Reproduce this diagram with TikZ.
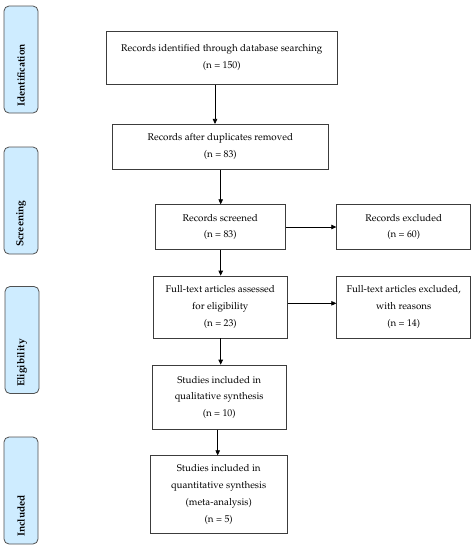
\documentclass[tikz,border=0pt]{standalone}
\usepackage[T1]{fontenc}
\renewcommand{\rmdefault}{ppl}
\usetikzlibrary{arrows.meta}
\definecolor{sidefill}{RGB}{206,236,255}
\definecolor{sideline}{RGB}{80,80,80}
\definecolor{boxline}{RGB}{60,60,60}
\begin{document}
\begin{tikzpicture}[x=1pt,y=-1pt,
  box/.style={draw=boxline, line width=0.7pt, align=center, inner sep=0pt,
     font=\fontsize{9.8}{16.7}\selectfont},
  side/.style={draw=sideline, fill=sidefill, line width=0.8pt, rounded corners=5pt,
     minimum width=34pt, minimum height=107pt, inner sep=0pt},
  sidetext/.style={rotate=90, anchor=west, inner sep=0pt, font=\fontsize{10.2}{12}\selectfont\bfseries},
  arr/.style={draw=black, line width=0.7pt, -{Triangle[length=5pt,width=4.5pt]}}]
\useasboundingbox (0,0) rectangle (474,550);

% side labels
\node[side] (s1) at (21,59.5) {};
\node[sidetext] (t1) at (21,107) {Identification};
\node[side] (s2) at (21,200.5) {};
\node[sidetext] (t2) at (21,247) {Screening};
\node[side] (s3) at (22,340) {};
\node[sidetext] (t3) at (22,387) {Eligibility};
\node[side] (s4) at (21,490.5) {};
\node[sidetext] (t4) at (21,537) {Included};

% boxes
\node[box, minimum width=230.5pt, minimum height=53.3pt] (b1) at (221.75,57.6)
  {Records identified through database searching\\(n = 150)};
\node[box, minimum width=216pt, minimum height=45pt] (b2) at (220.3,146.8)
  {Records after duplicates removed\\(n = 83)};
\node[box, minimum width=130.3pt, minimum height=44.6pt] (b3) at (220.2,227)
  {Records screened\\(n = 83)};
\node[box, minimum width=134pt, minimum height=44.6pt] (e1) at (403.7,227)
  {Records excluded\\(n = 60)};
\node[box, minimum width=134pt, minimum height=62pt] (b4) at (220.3,307)
  {Full-text articles assessed\\for eligibility\\(n = 23)};
\node[box, minimum width=134pt, minimum height=62pt] (e2) at (403.7,307)
  {Full-text articles excluded,\\with reasons\\(n = 14)};
\node[box, minimum width=133.7pt, minimum height=64.3pt] (b5) at (219.2,397.2)
  {Studies included in\\qualitative synthesis\\(n = 10)};
\node[box, minimum width=137.3pt, minimum height=77.6pt] (b6) at (218.7,494.5)
  {Studies included in\\quantitative synthesis\\(meta-analysis)\\(n = 5)};

% connector guides
\coordinate (c1) at (215,0);
\coordinate (c2) at (220.7,0);
\coordinate (c5) at (217.7,0);
\coordinate (r4) at (0,303.3);

\draw[arr] (c1 |- b1.south) -- (c1 |- b2.north);
\draw[arr] (c2 |- b2.south) -- (c2 |- b3.north);
\draw[arr] (c2 |- b3.south) -- (c2 |- b4.north);
\draw[arr] (c2 |- b4.south) -- (c2 |- b5.north);
\draw[arr] (c5 |- b5.south) -- (c5 |- b6.north);
\draw[arr] (b3.east) -- (e1.west);
\draw[arr] (b4.east |- r4) -- (e2.west |- r4);
\end{tikzpicture}
\end{document}
